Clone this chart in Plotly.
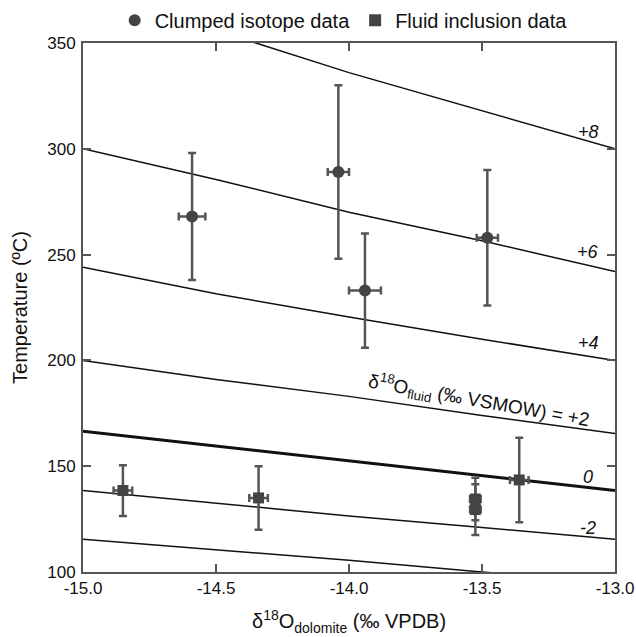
import plotly.graph_objects as go

# ---- data ----
grid_x = [-15.0, -14.5, -14.0, -13.5, -13.0]
iso_p8 = [375, 356, 336, 318, 300]
iso_p6 = [300, 285.5, 270, 256.5, 242]
iso_p4 = [244, 231.5, 220.5, 210, 200]
iso_p2 = [200, 191, 183, 174, 165.5]
iso_0 = [166.5, 159.5, 152.5, 145.5, 138.5]
iso_m2 = [138.5, 132.5, 126.5, 121, 115.5]
iso_m4 = [115.5, 110.5, 105.5, 100, 95]

clumped_x = [-14.59, -14.04, -13.94, -13.48]
clumped_T = [268, 289, 233, 258]
clumped_T_err = [30, 41, 27, 32]
clumped_x_err = [0.05, 0.04, 0.06, 0.04]

fluid_x = [-14.85, -14.34, -13.525, -13.525, -13.36]
fluid_T = [138.5, 135, 134.5, 129.5, 143.5]
fluid_T_err = [12, 15, 10, 12, 20]
fluid_x_err = [0.035, 0.035, 0.02, 0.02, 0.035]

x_ticks = [-15.0, -14.5, -14.0, -13.5, -13.0]
x_tick_labels = ["-15.0", "-14.5", "-14.0", "-13.5", "-13.0"]
y_ticks = [100, 150, 200, 250, 300, 350]

FONT = "Arial, Liberation Sans, sans-serif"
DARK = "#444444"
ERR = "#555555"

fig = go.Figure()

for ys, w in [(iso_p8, 1.5), (iso_p6, 1.5), (iso_p4, 1.5), (iso_p2, 1.5),
              (iso_0, 3), (iso_m2, 1.5), (iso_m4, 1.5)]:
    fig.add_trace(go.Scatter(x=grid_x, y=ys, mode="lines",
                             line=dict(color="#111111", width=w),
                             showlegend=False, hoverinfo="skip"))

fig.add_trace(go.Scatter(
    x=clumped_x, y=clumped_T, mode="markers", name="Clumped isotope data",
    marker=dict(symbol="circle", size=12, color=DARK),
    error_y=dict(type="data", array=clumped_T_err, color=ERR, thickness=2.5, width=4),
    error_x=dict(type="data", array=clumped_x_err, color=ERR, thickness=2.5, width=4),
))
fig.add_trace(go.Scatter(
    x=fluid_x, y=fluid_T, mode="markers", name="Fluid inclusion data",
    marker=dict(symbol="square", size=11, color=DARK),
    error_y=dict(type="data", array=fluid_T_err, color=ERR, thickness=2.5, width=4),
    error_x=dict(type="data", array=fluid_x_err, color=ERR, thickness=2.5, width=4),
))

labels = [
    (-13.10, 308, "<i>+8</i>"),
    (-13.10, 251, "<i>+6</i>"),
    (-13.10, 208, "<i>+4</i>"),
    (-13.10, 145, "<i>0</i>"),
    (-13.10, 121, "<i>-2</i>"),
]
for x, y, t in labels:
    fig.add_annotation(x=x, y=y, text=t, showarrow=False,
                       font=dict(family=FONT, size=18, color="#111111"))
fig.add_annotation(x=-13.51, y=181,
                   text="δ<sup>18</sup>O<sub>fluid</sub> (‰ VSMOW) = +2",
                   showarrow=False, textangle=10,
                   font=dict(family=FONT, size=19, color="#111111"))

# x-axis title as a paper annotation so it can sit lower than the margin allows
fig.add_annotation(x=0.5, xref="paper", y=0, yref="paper", yanchor="middle",
                   yshift=-49, showarrow=False,
                   text="δ<sup>18</sup>O<sub>dolomite</sub> (‰ VPDB)",
                   font=dict(family=FONT, size=20, color="#111111"))

axis_common = dict(showline=True, linecolor="#555555", linewidth=2, mirror="allticks",
                   ticks="inside", ticklen=8, tickwidth=2, tickcolor="#555555",
                   showgrid=False, zeroline=False, automargin=False,
                   tickfont=dict(family=FONT, size=17, color="#111111"))

fig.update_layout(
    width=636, height=637,
    margin=dict(l=83, r=21, t=43, b=65, autoexpand=False),
    paper_bgcolor="white", plot_bgcolor="white",
    font=dict(family=FONT, color="#111111"),
    legend=dict(orientation="h", x=0.49, xanchor="center", y=1.043, yanchor="middle",
                font=dict(family=FONT, size=20, color="#111111"),
                itemsizing="constant", bgcolor="rgba(0,0,0,0)"),
    xaxis=dict(range=[-15, -13], tickvals=x_ticks, ticktext=x_tick_labels,
               **axis_common),
    yaxis=dict(range=[100, 350], tickvals=y_ticks, ticklabelstandoff=2,
               title=dict(text="Temperature (ºC)",
                          font=dict(family=FONT, size=20, color="#111111"), standoff=14),
               **axis_common),
)

fig.write_html("out.html", config={"displayModeBar": False},
               post_script="document.body.style.margin='0';document.body.style.overflow='hidden';")
